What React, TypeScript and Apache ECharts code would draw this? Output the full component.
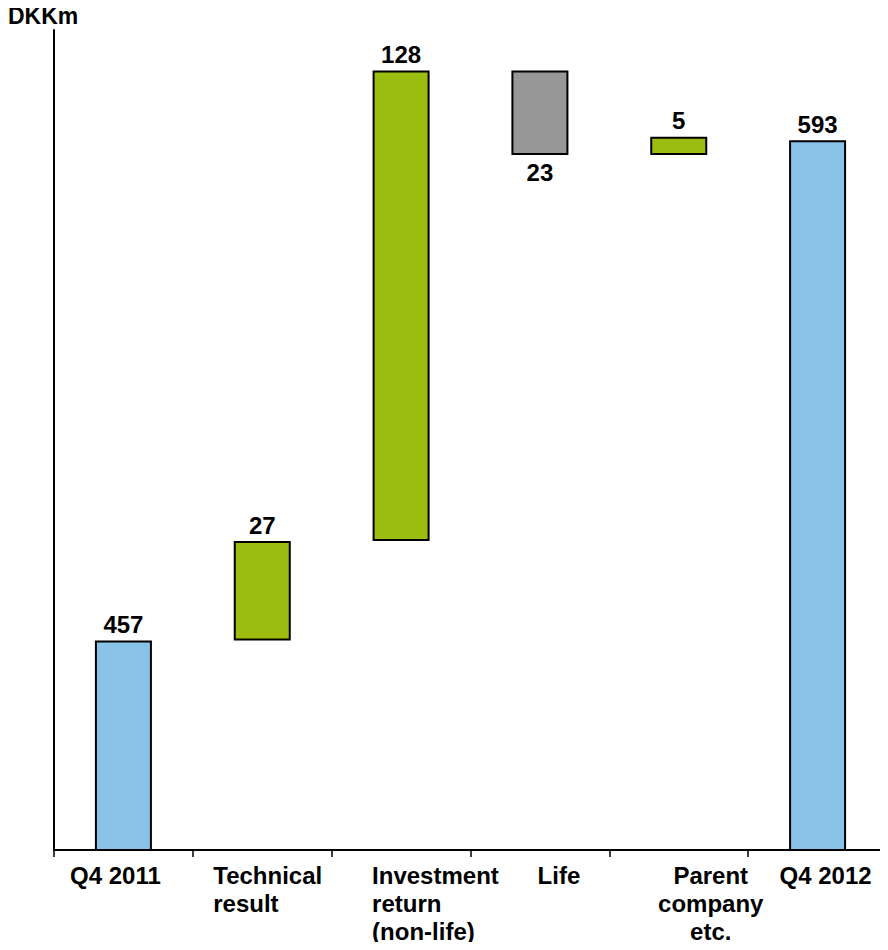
import React, { useEffect, useRef } from "react";
import * as echarts from "echarts";

const categories = [
  "Q4 2011",
  "Technical\nresult",
  "Investment\nreturn\n(non-life)",
  "Life",
  "Parent\ncompany\netc.",
  "Q4 2012",
];
const kinds = ["total", "delta", "delta", "delta", "delta", "total"];
const values = [457, 27, 128, -23, 5, 593];
const unitLabel = "DKKm";

const FONT = "'Liberation Sans', Arial, sans-serif";
const COLORS = { total: "#88C2E6", up: "#9BBD0F", down: "#979797" };
// category label layout (text alignment and horizontal shift from category centre)
const labelLayout = [
  { align: "center", dx: -8 },
  { align: "left", dx: -49 },
  { align: "left", dx: -29 },
  { align: "center", dx: 19 },
  { align: "center", dx: 32 },
  { align: "center", dx: 8 },
];

export default function App() {
  const ref = useRef<HTMLDivElement>(null);
  useEffect(() => {
    if (!ref.current) return;
    const chart = echarts.init(ref.current, null, { renderer: "svg" });

    const base: number[] = [];
    const visible: any[] = [];
    let running = 0;
    values.forEach((v, i) => {
      if (kinds[i] === "total") {
        base.push(0);
        running = v;
        visible.push({
          value: v,
          itemStyle: { color: COLORS.total },
          label: { position: "top", distance: 4 },
        });
      } else if (v >= 0) {
        base.push(running);
        running += v;
        visible.push({
          value: v,
          itemStyle: { color: COLORS.up },
          label: { position: "top", distance: 4 },
        });
      } else {
        running += v;
        base.push(running);
        visible.push({
          value: -v,
          itemStyle: { color: COLORS.down },
          label: { position: "bottom", distance: 5 },
        });
      }
    });

    chart.setOption({
      animation: false,
      grid: { left: 54, right: 1, top: 30, bottom: 100, containLabel: false },
      xAxis: {
        type: "category",
        data: categories,
        boundaryGap: true,
        axisLine: { show: true, lineStyle: { color: "#000", width: 2 } },
        axisTick: { show: true, length: 7, lineStyle: { color: "#000", width: 1.5 } },
        axisLabel: { show: false },
      },
      yAxis: {
        type: "value",
        min: 400,
        max: 623,
        axisLine: { show: true, lineStyle: { color: "#000", width: 2 } },
        axisTick: { show: false },
        axisLabel: { show: false },
        splitLine: { show: false },
      },
      series: [
        {
          type: "bar",
          stack: "w",
          data: base,
          barWidth: 57,
          itemStyle: { color: "transparent", borderWidth: 0 },
          emphasis: { disabled: true },
          silent: true,
        },
        {
          type: "bar",
          stack: "w",
          data: visible,
          barWidth: 57,
          itemStyle: { borderColor: "#000", borderWidth: 2 },
          label: {
            show: true,
            fontFamily: FONT,
            fontWeight: "bold",
            fontSize: 24,
            color: "#000",
            formatter: (p: any) => String(Math.abs(values[p.dataIndex])),
          },
          emphasis: { disabled: true },
        },
      ],
    });

    const graphics: any[] = [
      {
        type: "text",
        left: 8,
        top: 4,
        style: {
          text: unitLabel,
          font: `bold 23px ${FONT}`,
          fill: "#000",
        },
      },
    ];
    categories.forEach((c, i) => {
      const px: any = chart.convertToPixel({ xAxisIndex: 0 }, i);
      const cx = Array.isArray(px) ? px[0] : px;
      const lay = labelLayout[i];
      graphics.push({
        type: "text",
        x: cx + lay.dx,
        y: 861,
        style: {
          text: c,
          font: `bold 24px ${FONT}`,
          lineHeight: 28,
          fill: "#000",
          align: lay.align === "left" ? "left" : "center",
          verticalAlign: "top",
        },
      });
    });
    chart.setOption({ graphic: graphics });

    return () => chart.dispose();
  }, []);
  return <div ref={ref} style={{ width: 888, height: 950, margin: -8 }} />;
}
